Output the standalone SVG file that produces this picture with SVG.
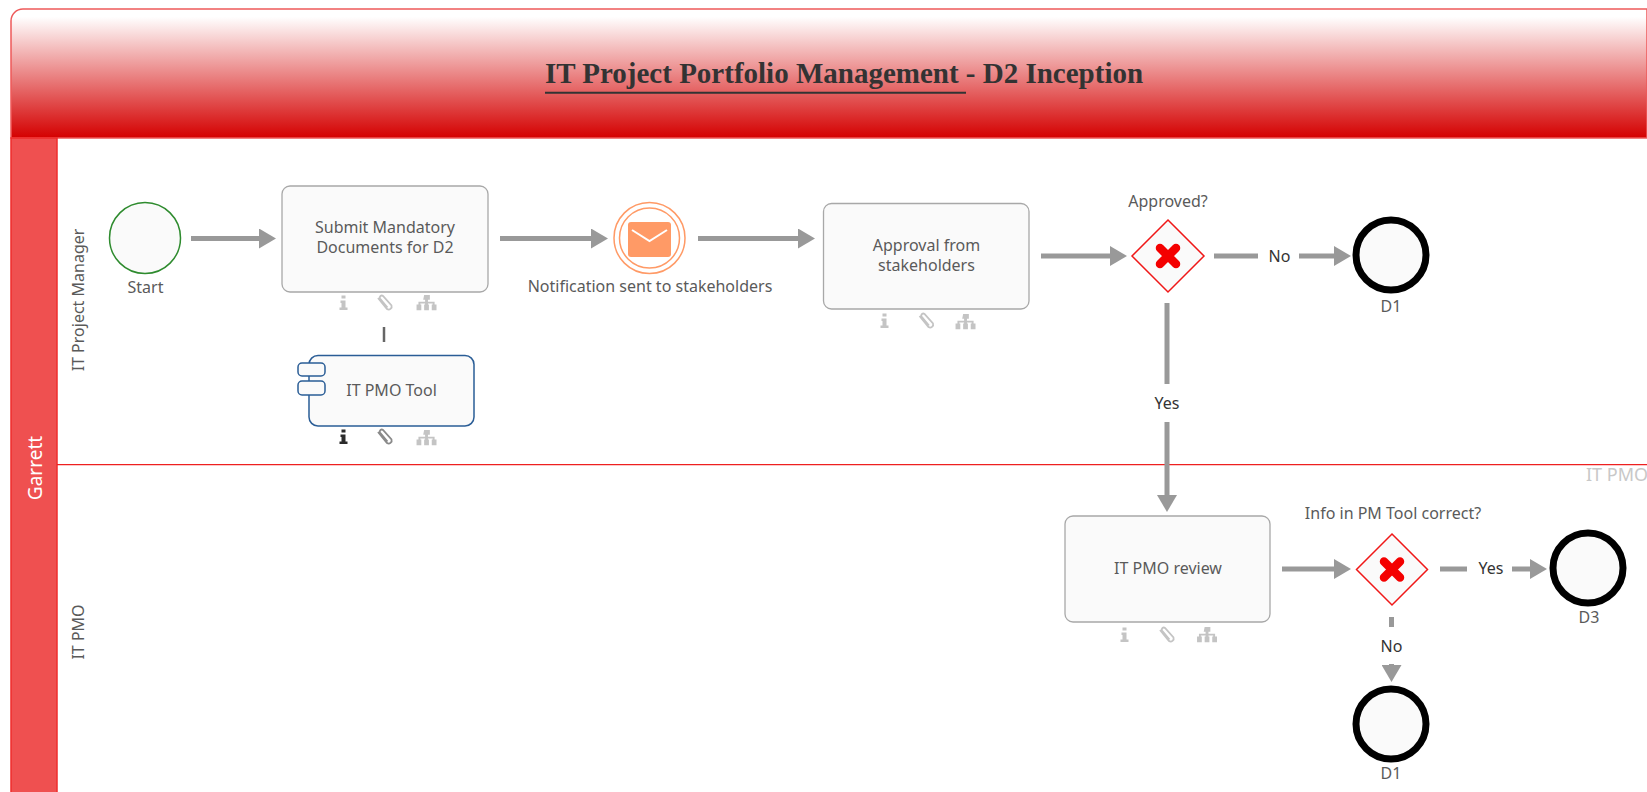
<svg xmlns="http://www.w3.org/2000/svg" xmlns:xlink="http://www.w3.org/1999/xlink" width="1647" height="792" viewBox="0 0 1647 792">
<style>
text{font-family:"Noto Sans","Open Sans","DejaVu Sans",sans-serif;font-size:16px;fill:#5a5a5a;text-anchor:middle}
.task{fill:#fafafa;stroke:#a8a8a8;stroke-width:1.3}
.gw{fill:#fafafa;stroke:#f01818;stroke-width:1.5}
.x{fill:none;stroke:#f40000;stroke-width:8.5;stroke-linecap:round}
.end{fill:#fafafa;stroke:#000;stroke-width:7}
.flow{fill:none;stroke:#999;stroke-width:5;marker-end:url(#ah)}
.seg{fill:none;stroke:#999;stroke-width:5}
.lab{fill:#333}
.light{fill:#c4c4c4;color:#c4c4c4}
.dark{fill:#2b2b2b;color:#2b2b2b}
.mid{fill:#8a8a8a;color:#8a8a8a}
</style>
<defs>
<linearGradient id="hd" x1="0" y1="0" x2="0" y2="1">
<stop offset="0" stop-color="#fff"/><stop offset="0.06" stop-color="#fff"/><stop offset="1" stop-color="#d40000"/>
</linearGradient>
<marker id="ah" markerUnits="userSpaceOnUse" markerWidth="18" markerHeight="20" refX="11" refY="10" orient="auto"><path d="M0 0L17 10L0 20Z" fill="#999"/></marker>
<g id="i-info"><path d="M-2.5 0.5h4v3h-4zM-3.5 5.5h5v7h2v2.5h-8v-2.5h2v-4.5h-1z" fill="currentColor"/></g>
<g id="i-clip"><path d="M-6 2.5L3 13.5a3 3 0 0 0 4.5-3.5L-1 0.5a2 2 0 0 0-3 2.5L3.5 12" fill="none" stroke="currentColor" stroke-width="1.8" transform="translate(-1 0.5)"/></g>
<g id="i-tree"><path d="M-3 0h6v5h-2v2h7v3h2v6h-5v-6h1v-1h-5v1h1v6h-5v-6h1v-1h-5v1h1v6h-5v-6h2v-3h7v-2h-2z" fill="currentColor" transform="scale(0.95)"/></g>
</defs>
<rect width="1647" height="792" fill="#fff"/>

<g id="frame">
<path d="M11 138V21a12 12 0 0 1 12-12H1647V138Z" fill="url(#hd)" stroke="#ee5a5a" stroke-width="1.5"/>
<rect x="11" y="138" width="46" height="660" fill="#ef5050" stroke="#f02c2c" stroke-width="1.5"/>
<path d="M57 464.7H1647" stroke="#ee2020" stroke-width="1.3" fill="none"/>
<text x="844" y="83" style="font-family:'Liberation Serif',serif;font-weight:bold;font-size:29px;fill:#333">IT Project Portfolio Management - D2 Inception</text>
<path d="M545 92.7H966" stroke="#333" stroke-width="2"/>
<text transform="translate(42 468) rotate(-90)" style="fill:#fff;font-size:19px">Garrett</text>
<text transform="translate(84 300) rotate(-90)">IT Project Manager</text>
<text transform="translate(84 632) rotate(-90)">IT PMO</text>
<text x="1586" y="481" style="text-anchor:start;font-size:18px;fill:#c8c8c8">IT PMO</text>
</g>

<g id="connectors">
<path class="flow" d="M191 238.5H270"/>
<path class="flow" d="M500 238.5H602"/>
<path class="flow" d="M698 238.5H809"/>
<path class="flow" d="M1041 256H1121"/>
<path class="seg" d="M1214 256H1258"/>
<path class="flow" d="M1299 256H1345"/>
<path class="seg" d="M1167 303V384"/>
<path class="flow" d="M1167 422V506"/>
<path class="flow" d="M1282 569H1345"/>
<path class="seg" d="M1440 569H1467"/>
<path class="flow" d="M1512 569H1541"/>
<path class="seg" d="M1391.5 617V627"/>
<path class="flow" d="M1391.5 664V676"/>
<path d="M384 327V342" stroke="#666" stroke-width="2.5" fill="none"/>
<text class="lab" x="1279.5" y="262">No</text>
<text class="lab" x="1167" y="409">Yes</text>
<text class="lab" x="1491" y="574">Yes</text>
<text class="lab" x="1391.5" y="652">No</text>
</g>

<g id="start">
<circle cx="145" cy="238" r="35.5" fill="#fafafa" stroke="#2e8b2e" stroke-width="1.5"/>
<text x="145.5" y="292.5">Start</text>
</g>

<g id="task-submit">
<rect class="task" x="282" y="186" width="206" height="106" rx="8"/>
<text x="385" y="233">Submit Mandatory</text>
<text x="385" y="253">Documents for D2</text>
<use xlink:href="#i-info" href="#i-info" class="light" x="344" y="295"/>
<use xlink:href="#i-clip" href="#i-clip" class="light" x="385" y="295"/>
<use xlink:href="#i-tree" href="#i-tree" class="light" x="427" y="295"/>
</g>

<g id="tool">
<rect x="309" y="355.5" width="165" height="70.5" rx="9" fill="#fafafa" stroke="#2a5d96" stroke-width="1.5"/>
<rect x="298" y="363" width="27" height="13" rx="4" fill="#fafafa" stroke="#2a5d96" stroke-width="1.5"/>
<rect x="298" y="381" width="27" height="14" rx="4" fill="#fafafa" stroke="#2a5d96" stroke-width="1.5"/>
<text x="391.5" y="395.5">IT PMO Tool</text>
<use xlink:href="#i-info" href="#i-info" class="dark" x="344" y="429"/>
<use xlink:href="#i-clip" href="#i-clip" class="mid" x="385" y="429"/>
<use xlink:href="#i-tree" href="#i-tree" class="light" x="427" y="430"/>
</g>

<g id="notify">
<circle cx="649.5" cy="238" r="35.5" fill="#fff" stroke="#ff9a66" stroke-width="1.5"/>
<circle cx="649.5" cy="238" r="30" fill="#fff" stroke="#ff9a66" stroke-width="1.5"/>
<rect x="628" y="222" width="43" height="35" rx="3" fill="#ff9a66"/>
<path d="M632 230L649.5 241L667 230" fill="none" stroke="#fff" stroke-width="2"/>
<text x="650" y="292">Notification sent to stakeholders</text>
</g>

<g id="task-approval">
<rect class="task" x="823.5" y="203.5" width="205.5" height="105.5" rx="8"/>
<text x="926.5" y="250.5">Approval from</text>
<text x="926.5" y="270.5">stakeholders</text>
<use xlink:href="#i-info" href="#i-info" class="light" x="885" y="313"/>
<use xlink:href="#i-clip" href="#i-clip" class="light" x="926.5" y="313"/>
<use xlink:href="#i-tree" href="#i-tree" class="light" x="966" y="314"/>
</g>

<g id="gw-approved">
<path class="gw" d="M1168 220L1204 256L1168 292L1132 256Z"/>
<path class="x" d="M1160 248L1176 264M1176 248L1160 264"/>
<text x="1168" y="207">Approved?</text>
</g>

<g id="end-d1-a">
<circle class="end" cx="1391" cy="255" r="35"/>
<text x="1391" y="311.5">D1</text>
</g>

<g id="task-review">
<rect class="task" x="1065" y="516" width="205" height="106" rx="8"/>
<text x="1168" y="574">IT PMO review</text>
<use xlink:href="#i-info" href="#i-info" class="light" x="1125" y="627"/>
<use xlink:href="#i-clip" href="#i-clip" class="light" x="1167" y="627"/>
<use xlink:href="#i-tree" href="#i-tree" class="light" x="1207.5" y="627"/>
</g>

<g id="gw-info">
<path class="gw" d="M1392 534L1427.5 569.5L1392 605L1356.5 569.5Z"/>
<path class="x" d="M1384 561.5L1400 577.5M1400 561.5L1384 577.5"/>
<text x="1393" y="519">Info in PM Tool correct?</text>
</g>

<g id="end-d3">
<circle class="end" cx="1588" cy="568" r="35"/>
<text x="1589" y="623">D3</text>
</g>

<g id="end-d1-b">
<circle class="end" cx="1391" cy="724" r="35"/>
<text x="1391" y="779">D1</text>
</g>
</svg>
